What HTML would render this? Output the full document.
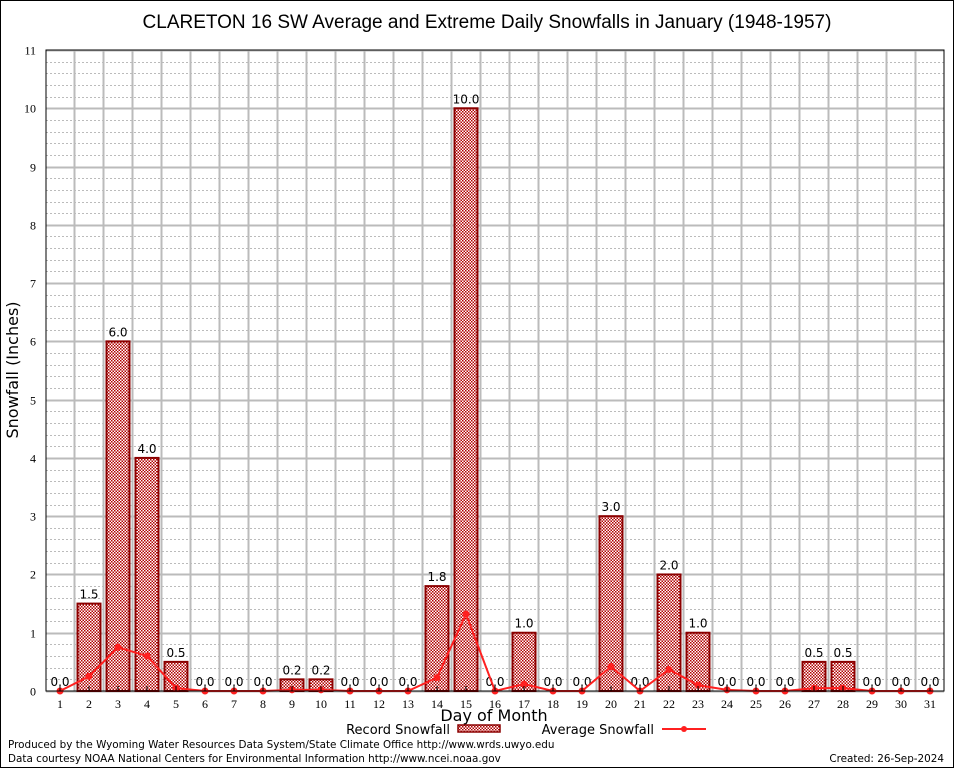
<!DOCTYPE html>
<html><head><meta charset="utf-8"><style>
body{margin:0;background:#fff;}
svg{display:block;font-family:"DejaVu Sans","Liberation Sans",sans-serif;}
</style></head><body>
<svg id="c" width="954" height="768" viewBox="0 0 954 768">
<defs>
<pattern id="chk" width="3" height="3" patternUnits="userSpaceOnUse">
<rect width="3" height="3" fill="#fff"/><rect width="1.5" height="1.5" fill="#b00000"/><rect x="1.5" y="1.5" width="1.5" height="1.5" fill="#b00000"/>
</pattern>
</defs>
<rect x="0.5" y="0.5" width="953" height="767" fill="#fff" stroke="#000"/>
<text x="487" y="28" font-size="19" text-anchor="middle" font-family="Liberation Sans, sans-serif">CLARETON 16 SW Average and Extreme Daily Snowfalls in January (1948-1957)</text>
<g id="grid"></g>
<g id="bars"></g>
<g id="line"></g>
<rect x="46" y="50" width="898" height="641" fill="none" stroke="#000"/>
<g id="axes"></g>
<text x="18" y="370" font-size="16" text-anchor="middle" transform="rotate(-90 18 370)">Snowfall (Inches)</text>
<text x="494" y="721" font-size="16" text-anchor="middle">Day of Month</text>
<g>
<text x="450" y="734" font-size="13" text-anchor="end">Record Snowfall</text>
<rect x="458" y="725" width="42" height="7" fill="url(#chk)" stroke="#8b0000" stroke-width="1.5"/>
</g>
<g>
<text x="654" y="734" font-size="13" text-anchor="end">Average Snowfall</text>
<line x1="662" y1="729" x2="706" y2="729" stroke="#ff2020" stroke-width="2"/>
<circle cx="684" cy="729" r="3" fill="#ff2020"/>
</g>
<text x="8" y="748" font-size="10.4">Produced by the Wyoming Water Resources Data System/State Climate Office http://www.wrds.uwyo.edu</text>
<text x="8" y="762" font-size="10.4">Data courtesy NOAA National Centers for Environmental Information http://www.ncei.noaa.gov</text>
<text x="944" y="762" font-size="10.4" text-anchor="end">Created:  26-Sep-2024</text>
</svg>
<script>
const days=[1,2,3,4,5,6,7,8,9,10,11,12,13,14,15,16,17,18,19,20,21,22,23,24,25,26,27,28,29,30,31];
const recordVals=[0,1.5,6,4,0.5,0,0,0,0.2,0.2,0,0,0,1.8,10,0,1,0,0,3,0,2,1,0,0,0,0.5,0.5,0,0,0];
const recordLabels=["0.0","1.5","6.0","4.0","0.5","0.0","0.0","0.0","0.2","0.2","0.0","0.0","0.0","1.8","10.0","0.0","1.0","0.0","0.0","3.0","0.0","2.0","1.0","0.0","0.0","0.0","0.5","0.5","0.0","0.0","0.0"];
const avgVals=[0,0.25,0.75,0.6,0.05,0,0,0,0.02,0.02,0,0,0,0.23,1.32,0,0.12,0,0,0.42,0,0.37,0.1,0.02,0,0,0.05,0.05,0,0,0];
const yTicks=[0,1,2,3,4,5,6,7,8,9,10,11];
const NS="http://www.w3.org/2000/svg";
const L=46,R=944,T=50,B=691;
const x=d=>60+(d-1)*29;
const y=v=>B-v*(B-T)/11;
function mk(p,tag,at){const e=document.createElementNS(NS,tag);for(const k in at)e.setAttribute(k,at[k]);p.appendChild(e);return e;}
const grid=document.getElementById('grid'),bars=document.getElementById('bars'),line=document.getElementById('line'),axes=document.getElementById('axes');
for(let v=0;v<11;v+=0.2){const yy=Math.round(y(v))+0.5;
 const e=mk(grid,'line',{x1:L,x2:R,y1:yy,y2:yy,stroke:'#bbb','stroke-dasharray':'2,2'});
 
 }
yTicks.forEach(v=>{const yy=Math.round(y(v))+0.5;
 const g=mk(grid,'line',{x1:L,x2:R,y1:yy,y2:yy,stroke:'#bbb','stroke-width':2});
 
 
 const t=mk(axes,'text',{x:36,y:yy+4,'font-size':12,'text-anchor':'end','font-family':'Liberation Serif, serif'});t.textContent=v;
 
 });
days.forEach((d,i)=>{
 if(i<days.length-1){const g=mk(grid,'line',{x1:x(d)+14.5,x2:x(d)+14.5,y1:T,y2:B,stroke:'#bbb','stroke-width':2});
  
  }
 const tk=mk(axes,'line',{x1:x(d),x2:x(d),y1:B,y2:B-5,stroke:'#000'});
 
 
 const t=mk(axes,'text',{x:x(d),y:708,'font-size':12,'text-anchor':'middle','font-family':'Liberation Serif, serif'});t.textContent=d;
 
 
 const v=recordVals[i];
 if(v>0){const r=mk(bars,'rect',{x:x(d)-11.5,y:y(v),width:23,height:B-y(v),fill:'url(#chk)',stroke:'#8b0000','stroke-width':2});
  
  }
 const lb=mk(bars,'text',{x:x(d),y:y(v)-5,'font-size':12,'text-anchor':'middle'});lb.textContent=recordLabels[i];
 
 
});
const pl=mk(line,'polyline',{points:days.map((d,i)=>x(d)+','+y(avgVals[i])).join(' '),fill:'none',stroke:'#ff2020','stroke-width':2});


days.forEach((d,i)=>{const c=mk(line,'circle',{cx:x(d),cy:y(avgVals[i]),r:3.5,fill:'#ff2020'});
 
 });
</script>
</body></html>
